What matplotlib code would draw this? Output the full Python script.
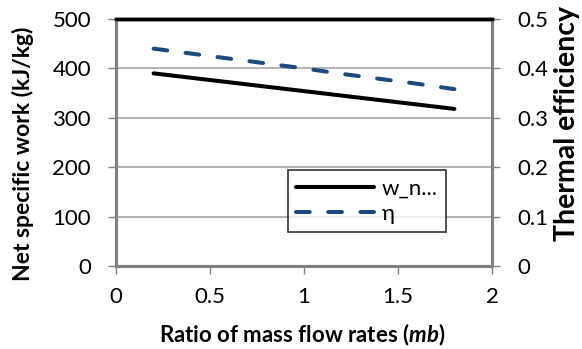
import matplotlib
matplotlib.use("Agg")
import matplotlib.pyplot as plt

plt.rcParams['font.family'] = ['Lato', 'DejaVu Sans']
plt.rcParams['mathtext.fontset'] = 'custom'
plt.rcParams['mathtext.it'] = 'Lato:italic:bold'

mb = [0.2, 0.4, 0.6, 0.8, 1.0, 1.2, 1.4, 1.6, 1.8]
w_net = [390, 381, 372, 363, 354, 345, 336, 327, 318]
eta = [0.440, 0.430, 0.420, 0.410, 0.400, 0.389, 0.379, 0.369, 0.358]
x_ticks = [0, 0.5, 1, 1.5, 2]
x_tick_labels = ['0', '0.5', '1', '1.5', '2']
y1_ticks = [0, 100, 200, 300, 400, 500]
y2_ticks = [0, 0.1, 0.2, 0.3, 0.4, 0.5]
y2_tick_labels = ['0', '0.1', '0.2', '0.3', '0.4', '0.5']

W, H = 582, 349
L, R, T, B = 116, 492, 19, 266
fig = plt.figure(figsize=(W/100, H/100), dpi=100)
ax = fig.add_axes([L/W, 1-B/H, (R-L)/W, (B-T)/H])
ax2 = ax.twinx()

grid_c = '#a6a6a6'
ax.set_xlim(0, 2)
ax.set_ylim(0, 500)
ax2.set_ylim(0, 0.5)
ax.set_xticks(x_ticks)
ax.set_xticklabels(x_tick_labels)
ax.set_yticks(y1_ticks)
ax2.set_yticks(y2_ticks)
ax2.set_yticklabels(y2_tick_labels)
ax.yaxis.grid(True, color=grid_c, linewidth=1.2)
ax.set_axisbelow(True)

l1, = ax.plot(mb, w_net, color='black', linewidth=2.9, solid_capstyle='round', label='w_n...')
l2, = ax2.plot(mb, eta, color='#1f497d', linewidth=2.9, linestyle=(0, (3.4, 4.6)),
               dash_capstyle='round', label='η')

for a in (ax, ax2):
    for s in ('left', 'right', 'bottom'):
        a.spines[s].set_color('#808080')
        a.spines[s].set_linewidth(2.2)
    a.spines['top'].set_color('black')
    a.spines['top'].set_linewidth(2.5)
    a.tick_params(axis='both', colors='black', labelsize=16, length=6, width=1,
                  direction='out')
    a.tick_params(axis='both', color='#808080')
ax.tick_params(axis='y', pad=12)
ax2.tick_params(axis='y', pad=12)
ax.tick_params(axis='x', pad=9)

fig.text(23/W, 1-154/H, 'Net specific work (kJ/kg)', rotation=90, ha='center', va='center',
         fontsize=16.5, fontweight='bold')
fig.text(302/W, 1-335/H, r'Ratio of mass flow rates ($\mathit{mb}$)', ha='center', va='center',
         fontsize=16, fontweight='bold')
fig.text(567/W, 1-241/H, 'Thermal efficiency', rotation=90, ha='center', va='bottom',
         fontsize=20.5, fontweight='bold')

leg = ax2.legend(handles=[l1, l2], loc='upper left',
                 bbox_to_anchor=((288-L)/(R-L), (B-170)/(B-T)),
                 frameon=True, fancybox=False, edgecolor='black', fontsize=16,
                 handlelength=3.5, borderpad=0.38, labelspacing=0.25, handletextpad=0.32,
                 borderaxespad=0)
leg.get_frame().set_linewidth(1.2)

fig.savefig('out.png', dpi=100)
